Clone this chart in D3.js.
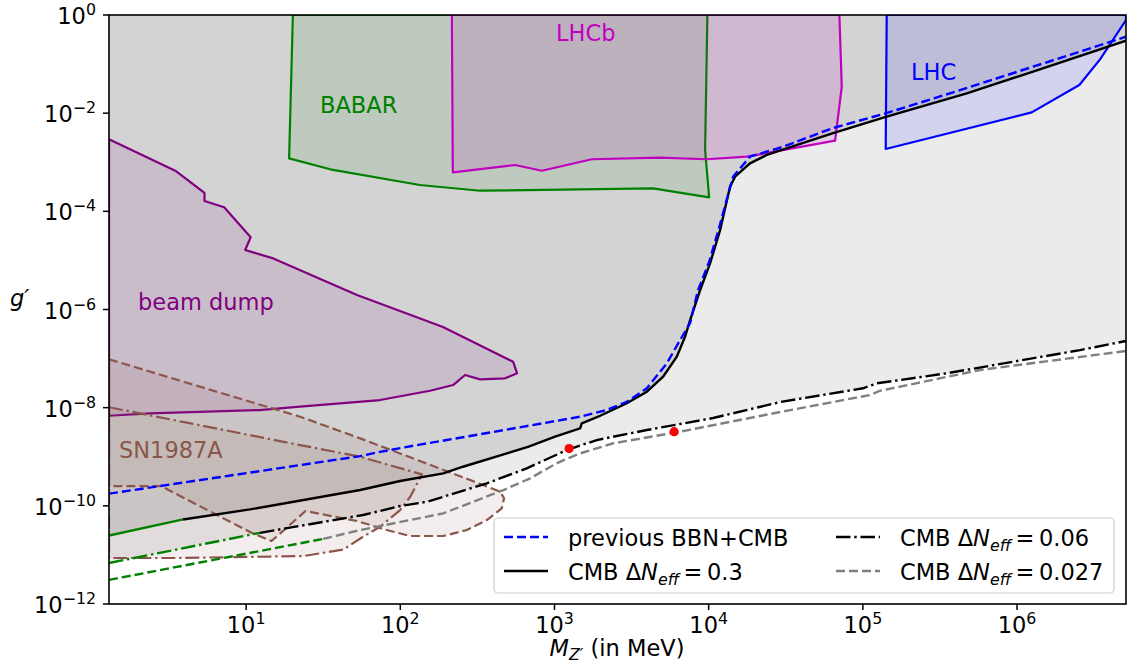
<!DOCTYPE html>
<html><head><meta charset="utf-8">
<script src="https://cdn.jsdelivr.net/npm/d3@7"></script>
<style>body{margin:0;background:#fff}svg{display:block}text{font-family:"DejaVu Sans",sans-serif}</style>
</head><body><svg id="c" width="1128" height="666"></svg>
<script>
// ---------- axis ticks ----------
const xTicks=[1e1,1e2,1e3,1e4,1e5,1e6];
const xTickExp=["1","2","3","4","5","6"];
const yTicks=[1,1e-2,1e-4,1e-6,1e-8,1e-10,1e-12];
const yTickExp=["0","\u22122","\u22124","\u22126","\u22128","\u221210","\u221212"];

// ---------- curves ----------
const cmb03M=[1.29,3.9,10.6,54.9,99.7,190,255,491,680,1009,1466,1503,1918,2943,3969,5062,6211,7032,7580,8800,10210,11870,13760,14830,18540,23820,64120,142800,472000,1270000,5090000];
const cmb03G=[2.48e-11,5.28e-11,8.45e-11,2.1e-10,3.2e-10,4.59e-10,6.26e-10,1.17e-9,1.6e-9,2.56e-9,3.79e-9,4.8e-9,6.54e-9,1.23e-8,2.11e-8,4.27e-8,1.09e-7,2.79e-7,6.1e-7,2.49e-6,8.7e-6,4.16e-5,3.17e-4,5.07e-4,9.5e-4,1.41e-3,3.94e-3,8.47e-3,0.0254,0.070,0.299];
const cmb03Split=3.9;

const prevM=[1.29,54.9,73.9,149,200,515,1466,2183,2943,3969,5349,6530,7580,8530,10070,11670,12400,14390,18540,30390,64120,143500,474000,1270000,5090000];
const prevG=[1.77e-10,1.03e-9,1.26e-9,1.88e-9,2.19e-9,3.67e-9,6.54e-9,8.95e-9,1.32e-8,2.48e-8,8.0e-8,2.39e-7,5.3e-7,2.49e-6,9.3e-6,4.57e-5,9.2e-5,5.07e-4,1.3e-3,2.07e-3,4.99e-3,0.0101,0.0326,0.0885,0.361];

const cmb006M=[1.29,12.3,57.4,99.7,149,364,661,1202,1881,3969,10690,29040,100300,123100,350000,942000,2563000,5090000];
const cmb006G=[6.84e-12,2.82e-11,6.5e-11,9.9e-11,1.21e-10,2.87e-10,5.81e-10,1.37e-9,2.19e-9,3.5e-9,6.15e-9,1.30e-8,2.48e-8,3.13e-8,5.01e-8,8.63e-8,1.49e-7,2.28e-7];
const cmb006Split=12.3;

const cmb0027M=[1.29,31.6,54.9,190,467,695,1040,1225,1466,2410,6530,29040,111300,129400,575000,5090000];
const cmb0027G=[3.1e-12,2.12e-11,3.21e-11,7.03e-11,2.1e-10,3.63e-10,7.45e-10,9.3e-10,1.17e-9,1.88e-9,3.24e-9,8.15e-9,1.81e-8,2.21e-8,5.85e-8,1.43e-7];
const cmb0027Split=31.6;

const dotM=[1244,5970];
const dotG=[1.47e-9,3.24e-9];

// ---------- excluded regions ----------
const babarM=[20.1,19.0,35.1,134,329,4357,10070,9480,9810];
const babarG=[1,1.2e-3,7.18e-4,3.44e-4,2.63e-4,2.94e-4,1.93e-4,1.78e-3,1];

const lhcbM=[216,219,555,828,1746,4842,9720,17650,66070,72980,70440];
const lhcbG=[1,6.24e-4,8.8e-4,6.72e-4,1.15e-3,1.24e-3,1.15e-3,1.3e-3,2.75e-3,0.0346,1];

const lhcM=[142800,140700,1245000,2535000,3454000,5090000,5090000];
const lhcG=[1,1.86e-3,0.0104,0.0375,0.125,0.79,1];

const beamM=[1.29,3.47,5.37,5.37,7.2,10.7,9.86,15.0,52.4,189,539,572,478,329,263,220,156,73.9,22.4,12.3,2.38,1.29];
const beamG=[2.93e-3,6.72e-4,2.39e-4,1.62e-4,1.21e-4,2.96e-5,1.63e-5,1.1e-5,1.97e-6,4.4e-7,8.63e-8,5.01e-8,3.96e-8,3.78e-8,4.63e-8,2.89e-8,2.21e-8,1.43e-8,1.05e-8,8.95e-9,7.67e-9,6.85e-9];

const snDashM=[1.29,22.4,54.9,284,444,471,455,364,270,190,116,81.7,52.5,24.3,14.6,10.9,2.8,1.29];
const snDashG=[9.66e-8,6.54e-9,2.37e-9,3.35e-10,1.94e-10,1.42e-10,8.89e-11,5.14e-11,3.21e-11,2.43e-11,2.43e-11,3.21e-11,4.9e-11,7.83e-11,1.92e-11,2.79e-11,2.53e-10,2.53e-10];

const snDotM=[1.29,22.4,54.9,138,116,99.7,73.9,57.4,42.6,23.6,3.66,1.29];
const snDotG=[1.02e-8,1.73e-9,1.0e-9,4.38e-10,1.53e-10,8.2e-11,3.75e-11,2.35e-11,1.28e-11,9.5e-12,8.65e-12,8.65e-12];

const regionLabels=["BABAR","LHCb","LHC","beam dump","SN1987A"];
const legendLabels=["previous BBN+CMB","CMB \u0394","0.3","0.06","0.027"];

// ---------- setup ----------
const svg=d3.select("#c");
const L=109,R=1126,T=15,B=604;
const FS=22.5, FSS=15.8;
const x=d3.scaleLog().domain([1.29,5.09e6]).range([L,R]);
const y=d3.scaleLog().domain([1e-12,1]).range([B,T]);
const pts=(M,G)=>M.map((m,i)=>[m,G[i]]);
const line=d3.line().x(d=>x(d[0])).y(d=>y(d[1]));
const areaTop=d3.area().x(d=>x(d[0])).y0(y(1)).y1(d=>y(d[1]));

svg.append("defs").append("clipPath").attr("id","clip")
  .append("rect").attr("x",L).attr("y",T).attr("width",R-L).attr("height",B-T);
const plot=svg.append("g").attr("clip-path","url(#clip)");

// gray excluded fills
plot.append("path").attr("d",areaTop(pts(cmb006M,cmb006G))).attr("fill","#ebebeb");
plot.append("path").attr("d",areaTop(pts(cmb03M,cmb03G))).attr("fill","#d3d3d3");

function poly(M,G,color,dash,alpha){
  plot.append("path").attr("d",line(pts(M,G))+"Z")
    .attr("fill",color).attr("fill-opacity",alpha)
    .attr("stroke",color).attr("stroke-width",2.2)
    .attr("stroke-dasharray",dash||null).attr("stroke-linejoin","round");
}
poly(beamM,beamG,"#800080",null,0.1);
poly(babarM,babarG,"#008000",null,0.1);
poly(lhcbM,lhcbG,"#bf00bf",null,0.12);
poly(lhcM,lhcG,"#0000ff",null,0.1);
poly(snDashM,snDashG,"#8c564b","9,4",0.1);
poly(snDotM,snDotG,"#8c564b","14,3.8,2.4,3.8",0.1);

// curves
function curve(M,G,color,dash,split,lowColor){
  const P=pts(M,G);
  const draw=(D,c)=>plot.append("path").attr("d",line(D)).attr("fill","none").attr("stroke",c)
      .attr("stroke-width",2.4).attr("stroke-dasharray",dash||null);
  if(split){
    draw(P.filter(d=>d[0]<=split),lowColor);
    draw(P.filter(d=>d[0]>=split),color);
  } else draw(P,color);
}
curve(cmb0027M,cmb0027G,"#808080","9,4",cmb0027Split,"#008000");
curve(cmb006M,cmb006G,"#000000","14.5,3.8,2.4,3.8",cmb006Split,"#008000");
curve(cmb03M,cmb03G,"#000000",null,cmb03Split,"#008000");
curve(prevM,prevG,"#0000ff","9,4");

plot.selectAll("circle.dot").data(pts(dotM,dotG)).enter().append("circle")
  .attr("cx",d=>x(d[0])).attr("cy",d=>y(d[1])).attr("r",4.6).attr("fill","#ff0000");

// region labels
const labPos=[[320,113,"#008000"],[556,41,"#bf00bf"],[911,80,"#0000ff"],[138,310,"#800080"],[119,458,"#8c564b"]];
regionLabels.forEach((t,i)=>{
  svg.append("text").attr("x",labPos[i][0]).attr("y",labPos[i][1]).attr("fill",labPos[i][2])
    .attr("font-size",FS).text(t);
});

// axes
const ax=svg.append("g");
xTicks.forEach((v,i)=>{
  ax.append("line").attr("x1",x(v)).attr("x2",x(v)).attr("y1",B).attr("y2",B+6).attr("stroke","#000").attr("stroke-width",1.5);
  const t=ax.append("text").attr("x",x(v)).attr("y",633).attr("text-anchor","middle").attr("font-size",FS);
  t.append("tspan").text("10");
  t.append("tspan").attr("dy",-9).attr("font-size",FSS).text(xTickExp[i]);
});
yTicks.forEach((v,i)=>{
  ax.append("line").attr("x1",L-6).attr("x2",L).attr("y1",y(v)).attr("y2",y(v)).attr("stroke","#000").attr("stroke-width",1.5);
  const t=ax.append("text").attr("x",96).attr("y",y(v)+9).attr("text-anchor","end").attr("font-size",FS);
  t.append("tspan").text("10");
  t.append("tspan").attr("dy",-9).attr("font-size",FSS).text(yTickExp[i]);
});
ax.append("rect").attr("x",L).attr("y",T).attr("width",R-L).attr("height",B-T)
  .attr("fill","none").attr("stroke","#000").attr("stroke-width",1.6);

// axis titles
const xl=svg.append("text").attr("x",617).attr("y",656).attr("text-anchor","middle").attr("font-size",FS);
xl.append("tspan").attr("font-style","italic").text("M");
xl.append("tspan").attr("font-style","italic").attr("font-size",FSS).attr("dy",4).text("Z\u2032");
xl.append("tspan").attr("dy",-4).text(" (in MeV)");
const yl=svg.append("text").attr("x",10).attr("y",306).attr("font-size",FS);
yl.append("tspan").attr("font-style","italic").text("g\u2032");

// legend
const lg=svg.append("g");
lg.append("rect").attr("x",494).attr("y",518).attr("width",620).attr("height",75).attr("rx",4)
  .attr("fill","#fff").attr("fill-opacity",0.8).attr("stroke","#cccccc").attr("stroke-width",1.2);
const legItems=[
  {hx:504,hy:537,tx:568,color:"#0000ff",dash:"9,4",label:legendLabels[0]},
  {hx:504,hy:571,tx:568,color:"#000",dash:null,val:legendLabels[2]},
  {hx:836,hy:537,tx:900,color:"#000",dash:"14.5,3.8,2.4,3.8",val:legendLabels[3]},
  {hx:836,hy:571,tx:900,color:"#808080",dash:"9,4",val:legendLabels[4]}
];
legItems.forEach(it=>{
  lg.append("line").attr("x1",it.hx).attr("x2",it.hx+44).attr("y1",it.hy).attr("y2",it.hy)
    .attr("stroke",it.color).attr("stroke-width",2.4).attr("stroke-dasharray",it.dash);
  const t=lg.append("text").attr("x",it.tx).attr("y",it.hy+9).attr("font-size",FS);
  if(it.label){t.text(it.label);}
  else{
    t.append("tspan").text(legendLabels[1]);
    t.append("tspan").attr("font-style","italic").text("N");
    t.append("tspan").attr("font-style","italic").attr("font-size",FSS).attr("dy",5).text("eff");
    t.append("tspan").attr("dy",-5).text("\u2009=\u2009"+it.val);
  }
});
</script></body></html>
